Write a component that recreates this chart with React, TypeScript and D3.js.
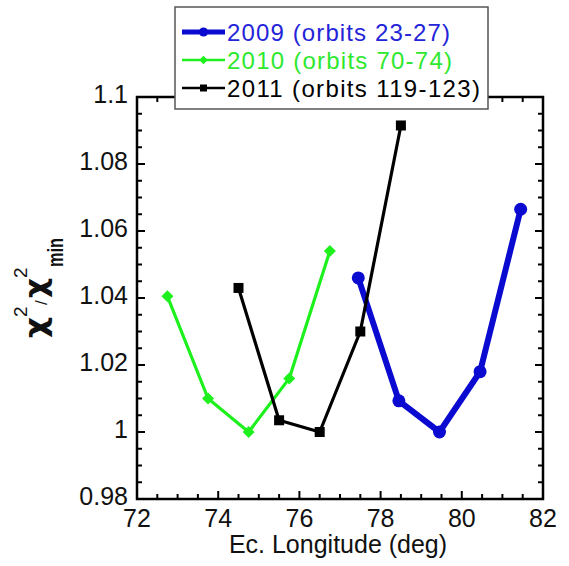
import React from "react";
import * as d3 from "d3";

// 2009 (orbits 23-27)
const lon2009 = [77.45, 78.45, 79.45, 80.45, 81.45];
const chi2009 = [1.046, 1.0093, 1.0, 1.018, 1.0665];
// 2010 (orbits 70-74)
const lon2010 = [72.75, 73.75, 74.75, 75.75, 76.75];
const chi2010 = [1.0405, 1.01, 1.0, 1.016, 1.054];
// 2011 (orbits 119-123)
const lon2011 = [74.5, 75.5, 76.5, 77.5, 78.5];
const chi2011 = [1.043, 1.0035, 1.0, 1.03, 1.0915];

const xTicks = [72, 74, 76, 78, 80, 82];
const yTicks = [0.98, 1, 1.02, 1.04, 1.06, 1.08, 1.1];
const yTickLabels = ["0.98", "1", "1.02", "1.04", "1.06", "1.08", "1.1"];

const legendLabels = ["2009 (orbits 23-27)", "2010 (orbits 70-74)", "2011 (orbits 119-123)"];
const legendWidths = [223, 225, 253];

const FONT = "'Liberation Sans', Arial, sans-serif";
const GREEK = "'DejaVu Sans', sans-serif";

export default function App() {
  const width = 569;
  const height = 566;
  const left = 137, right = 543, top = 97, bottom = 499;

  const x = d3.scaleLinear().domain([72, 82]).range([left, right]);
  const y = d3.scaleLinear().domain([0.98, 1.1]).range([bottom, top]);

  const line = d3
    .line<[number, number]>()
    .x((d) => x(d[0]))
    .y((d) => y(d[1]));

  const series = [
    { lon: lon2009, chi: chi2009, color: "#0a0ad0", text: "#2424d8", lw: 6, marker: "circle" },
    { lon: lon2010, chi: chi2010, color: "#1ef01e", text: "#2ee82e", lw: 3.2, marker: "diamond" },
    { lon: lon2011, chi: chi2011, color: "#000000", text: "#000000", lw: 3.2, marker: "square" },
  ];

  const marker = (kind: string, cx: number, cy: number, color: string, key: string, s = 1) => {
    if (kind === "circle") return <circle key={key} cx={cx} cy={cy} r={6.5 * s} fill={color} />;
    if (kind === "diamond") {
      const r = 6 * s;
      return (
        <path key={key} d={`M${cx},${cy - r}L${cx + r},${cy}L${cx},${cy + r}L${cx - r},${cy}Z`} fill={color} />
      );
    }
    const h = 5 * s;
    return <rect key={key} x={cx - h} y={cy - h} width={2 * h} height={2 * h} fill={color} />;
  };

  const xMinor = d3.range(72, 82.001, 0.5);
  const yMinor = d3.range(0.98, 1.1001, 0.005);

  return (
    <svg width={width} height={height} style={{ position: "absolute", left: 0, top: 0, background: "#fff" }}>
      {/* ticks */}
      <g stroke="#000" strokeWidth={2}>
        {xMinor.map((v, i) => {
          const len = i % 4 === 0 ? 8 : 5;
          return (
            <g key={"xm" + i}>
              <line x1={x(v)} x2={x(v)} y1={bottom} y2={bottom - len} />
              <line x1={x(v)} x2={x(v)} y1={top} y2={top + len} />
            </g>
          );
        })}
        {yMinor.map((v, i) => {
          const len = i % 4 === 0 ? 8 : 5;
          return (
            <g key={"ym" + i}>
              <line x1={left} x2={left + len} y1={y(v)} y2={y(v)} />
              <line x1={right} x2={right - len} y1={y(v)} y2={y(v)} />
            </g>
          );
        })}
      </g>
      <rect x={left} y={top} width={right - left} height={bottom - top} fill="none" stroke="#000" strokeWidth={2.5} />

      {/* series */}
      {series.map((s, si) => {
        const pts = s.lon.map((v, i) => [v, s.chi[i]] as [number, number]);
        return (
          <g key={"s" + si}>
            <path d={line(pts) ?? ""} fill="none" stroke={s.color} strokeWidth={s.lw} strokeLinejoin="round" />
            {pts.map((p, i) => marker(s.marker, x(p[0]), y(p[1]), s.color, "m" + si + i))}
          </g>
        );
      })}

      {/* tick labels */}
      <g fontFamily={FONT} fontSize={25} fill="#111">
        {xTicks.map((v) => (
          <text key={"xt" + v} x={x(v)} y={527} textAnchor="middle">
            {v}
          </text>
        ))}
        {yTicks.map((v, i) => (
          <text key={"yt" + v} x={128} y={y(v) + 6} textAnchor="end">
            {yTickLabels[i]}
          </text>
        ))}
        <text x={338} y={553} textAnchor="middle">
          Ec. Longitude (deg)
        </text>
      </g>

      {/* y label */}
      <g transform="translate(50,0) rotate(-90)" fontFamily={FONT} fill="#111">
        <text x={-338} y={-4} fontFamily={GREEK} fontSize={30} fontWeight="bold" textLength={21} lengthAdjust="spacingAndGlyphs">χ</text>
        <text x={-317} y={-23} fontSize={19}>2</text>
        <text x={-305} y={-3} fontSize={17}>/</text>
        <text x={-298} y={-4} fontFamily={GREEK} fontSize={30} fontWeight="bold" textLength={20} lengthAdjust="spacingAndGlyphs">χ</text>
        <text x={-278} y={-23} fontSize={19}>2</text>
        <text x={-267} y={13} fontSize={22} fontWeight="bold" textLength={29} lengthAdjust="spacingAndGlyphs">min</text>
      </g>

      {/* legend */}
      <rect x={175} y={7} width={313} height={102} fill="#fff" stroke="#555" strokeWidth={1.5} />
      {series.map((s, i) => {
        const cy = 32 + i * 28;
        return (
          <g key={"lg" + i}>
            <line x1={182} x2={225} y1={cy} y2={cy} stroke={s.color} strokeWidth={s.lw * 0.8} />
            {marker(s.marker, 203.5, cy, s.color, "lm" + i, 0.7)}
            <text
              x={227}
              y={cy + 9}
              fontFamily={FONT}
              fontSize={24}
              fill={s.text}
              textLength={legendWidths[i]}
              lengthAdjust="spacing"
            >
              {legendLabels[i]}
            </text>
          </g>
        );
      })}
    </svg>
  );
}
